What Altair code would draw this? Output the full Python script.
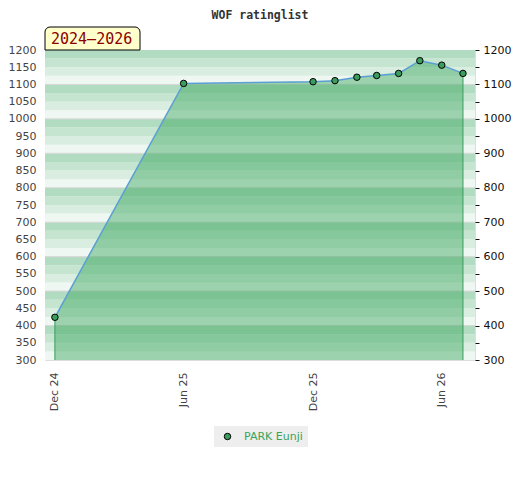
import altair as alt
import pandas as pd

# ---- data ----
dates = ["2024-12-01", "2025-06-01", "2025-12-01", "2026-01-01", "2026-02-01",
         "2026-03-01", "2026-04-01", "2026-05-01", "2026-06-01", "2026-07-01"]
ratings = [424, 1103, 1108, 1111, 1121, 1126, 1132, 1169, 1156, 1132]
player = "PARK Eunji"
period_label = "2024–2026"
chart_title = "WOF ratinglist"
y_ticks = list(range(300, 1201, 50))
x_tick_dates = [(2024, 12), (2025, 6), (2025, 12), (2026, 6)]

df = pd.DataFrame({"date": dates, "rating": ratings, "player": [player] * len(dates)})
ends = df.iloc[[0, len(df) - 1]]

# background stripes (4 shades per 100 points)
shade = {0: "#eef7f1", 1: "#d9ede0", 2: "#c5e5d0", 3: "#b2dcc1"}
band_rows = []
for lo in range(300, 1200, 25):
    band_rows.append({"lo": lo, "hi": lo + 25, "c": shade[(lo % 100) // 25]})
bands = pd.DataFrame(band_rows)
grid = pd.DataFrame({"v": [v for v in y_ticks if v % 100 == 0 and 300 < v < 1200]})

W, H = 430, 310
ysc = alt.Scale(domain=[300, 1200], nice=False, zero=False)
xsc = alt.Scale(type="utc", domain=[alt.DateTime(year=2024, month=11, date=17, utc=True),
                                    alt.DateTime(year=2026, month=7, date=18, utc=True)])
xaxis = alt.Axis(values=[alt.DateTime(year=y, month=m, date=1, utc=True) for y, m in x_tick_dates],
                 labelExpr="utcFormat(datum.value, '%b %y')", labelAngle=-90, ticks=False,
                 domain=False, grid=False, labelPadding=12, labelColor="#444",
                 labelFont="DejaVu Sans", labelFontSize=11, labelOverlap=False)
X = alt.X("date:T", scale=xsc, axis=xaxis, title=None)

left_axis = alt.Axis(orient="left", values=y_ticks, format="d", ticks=False, domain=False,
                     grid=False, labelColor="#444", labelFont="DejaVu Sans", labelFontSize=11,
                     labelPadding=9, labelOverlap=False)
right_axis = alt.Axis(orient="right", values=y_ticks,
                      labelExpr="datum.value % 100 == 0 ? format(datum.value, 'd') : ''",
                      tickSize=4, tickColor="#111", domain=False, grid=False,
                      labelColor="#111", labelFont="DejaVu Sans", labelFontSize=11,
                      labelPadding=4, labelOverlap=False)

band_layer = alt.Chart(bands).mark_rect().encode(
    x=alt.value(0), x2=alt.value(W),
    y=alt.Y("lo:Q", scale=ysc, axis=left_axis, title=None),
    y2="hi:Q",
    color=alt.Color("c:N", scale=None),
)
grid_layer = alt.Chart(grid).mark_rule(color="#d6d6d6", strokeWidth=1).encode(
    x=alt.value(0), x2=alt.value(W),
    y=alt.Y("v:Q", scale=ysc, axis=None),
)
area_layer = alt.Chart(df).mark_area(fill="#37a45c", fillOpacity=0.45).encode(
    x=X, y=alt.Y("rating:Q", scale=ysc, axis=None), y2=alt.datum(300),
)
edge_layer = alt.Chart(ends).mark_rule(color="#3a9d5d", strokeWidth=1).encode(
    x=X, y=alt.Y("rating:Q", scale=ysc, axis=None), y2=alt.datum(300),
)
line_layer = alt.Chart(df).mark_line(color="#5a9fd4", strokeWidth=1.5).encode(
    x=X, y=alt.Y("rating:Q", scale=ysc, axis=right_axis, title=None),
)
point_layer = alt.Chart(df).mark_point(filled=True, size=42, stroke="black",
                                       strokeWidth=1, opacity=1).encode(
    x=X, y=alt.Y("rating:Q", scale=ysc, axis=None),
    color=alt.Color("player:N", scale=alt.Scale(domain=[player], range=["#3a9d5d"]),
                    legend=alt.Legend(orient="none", legendX=169, legendY=376, title=None,
                                      fillColor="#eeeeee", padding=5, symbolType="circle",
                                      symbolSize=42, symbolStrokeColor="black",
                                      symbolStrokeWidth=1, symbolFillColor="#3a9d5d",
                                      symbolOffset=3, labelOffset=11,
                                      labelColor="#3aa35a", labelFont="DejaVu Sans",
                                      labelFontSize=11)),
)
box_layer = alt.Chart(pd.DataFrame({"t": [period_label]})).mark_rect(
    fill="#ffffcc", stroke="black", strokeWidth=1,
    cornerRadiusTopLeft=5, cornerRadiusTopRight=5,
).encode(x=alt.value(0), x2=alt.value(95), y=alt.value(-23), y2=alt.value(0))
label_layer = alt.Chart(pd.DataFrame({"t": [period_label]})).mark_text(
    align="left", baseline="alphabetic", font="DejaVu Sans Mono", fontSize=15,
    color="#8b0000",
).encode(x=alt.value(6), y=alt.value(-6), text="t:N")
title_layer = alt.Chart(pd.DataFrame({"t": [chart_title]})).mark_text(
    align="center", baseline="alphabetic", font="DejaVu Sans Mono", fontSize=11.5,
    fontWeight="bold", color="#333",
).encode(x=alt.value(W / 2), y=alt.value(-31), text="t:N")

chart = alt.layer(
    band_layer, grid_layer, area_layer, edge_layer, line_layer, point_layer,
    box_layer, label_layer, title_layer,
).resolve_scale(y="independent").properties(
    width=W, height=H,
    autosize=alt.AutoSizeParams(type="none"),
    padding={"left": 37, "top": 42, "right": 37, "bottom": 100},
).configure_view(stroke="#d0d0d0", strokeWidth=1.5).configure(background="white")

chart.save("out.html", embed_options={"renderer": "svg", "actions": False})
